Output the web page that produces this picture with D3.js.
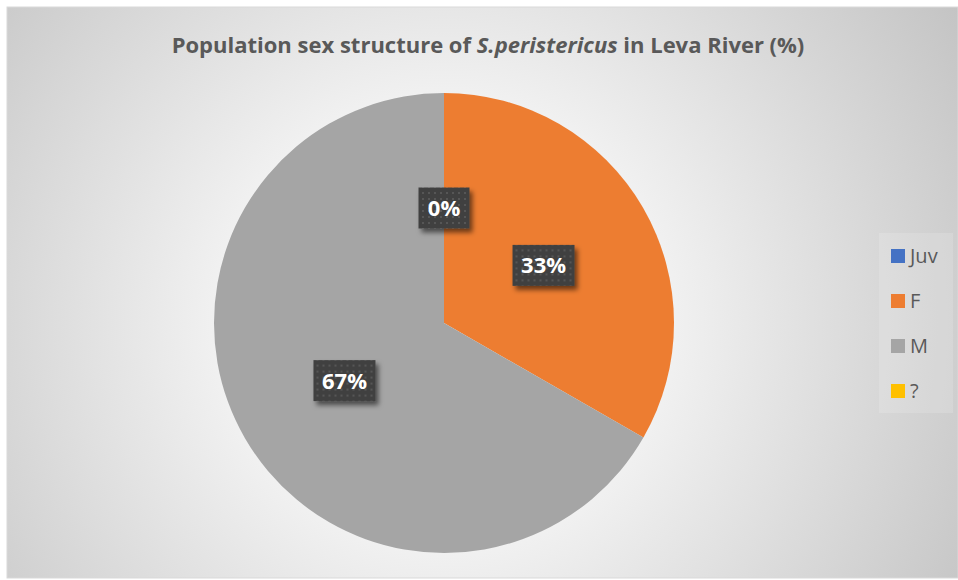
<!DOCTYPE html>
<html>
<head>
<meta charset="utf-8">
<script src="https://cdn.jsdelivr.net/npm/d3@7"></script>
<style>
  body { margin: 0; background: #fff; }
  svg { display: block; }
</style>
</head>
<body>
<svg id="chart" width="958" height="580"></svg>
<script>
// data
const categories = ["Juv", "F", "M", "?"];
const values = [0, 33.3, 66.7, 0];
const labels = ["0%", "33%", "67%", "0%"];
const colors = ["#4472C4", "#ED7D31", "#A5A5A5", "#FFC000"];

const width = 958, height = 580;
const cx = 444, cy = 323, radius = 230;
const textColor = "#595959";
const fontFamily = "'Open Sans', 'Noto Sans', sans-serif";

let svg = d3.select("#chart");
let defs = svg.append("defs");

// background gradient
let grad = defs.append("radialGradient")
  .attr("id", "bg")
  .attr("gradientUnits", "userSpaceOnUse")
  .attr("cx", cx).attr("cy", cy).attr("r", 620);
grad.append("stop").attr("offset", "0%").attr("stop-color", "#ffffff");
grad.append("stop").attr("offset", "35%").attr("stop-color", "#f2f2f2");
grad.append("stop").attr("offset", "100%").attr("stop-color", "#c2c2c2");

// dotted label pattern
let pat = defs.append("pattern")
  .attr("id", "dots")
  .attr("patternUnits", "userSpaceOnUse")
  .attr("width", 6).attr("height", 6);
pat.append("rect").attr("width", 6).attr("height", 6).attr("fill", "#404040");
pat.append("rect").attr("x", 2).attr("y", 2).attr("width", 2).attr("height", 2).attr("fill", "#575757");

// shadow filter
let filt = defs.append("filter").attr("id", "shadow")
  .attr("x", "-30%").attr("y", "-30%").attr("width", "170%").attr("height", "180%");
filt.append("feDropShadow")
  .attr("dx", 3).attr("dy", 4).attr("stdDeviation", 2.5)
  .attr("flood-color", "#000").attr("flood-opacity", 0.55);

svg.append("rect")
  .attr("x", 7).attr("y", 7)
  .attr("width", width - 7).attr("height", height - 9)
  .attr("fill", "url(#bg)")
  .attr("stroke", "#d9d9d9")
  .attr("stroke-width", 1);

// title
let title = svg.append("text")
  .attr("x", 488)
  .attr("y", 53)
  .attr("text-anchor", "middle")
  .style("font-family", fontFamily)
  .style("font-weight", "bold")
  .style("font-size", "22px")
  .style("fill", textColor);
title.append("tspan").text("Population sex structure of ");
title.append("tspan").style("font-style", "italic").text("S.peristericus");
title.append("tspan").text(" in Leva River (%)");

// pie
let data = categories.map((c, i) => ({ key: c, value: values[i], label: labels[i], color: colors[i] }));

let pie = d3.pie()
  .value(d => d.value)
  .sort(null);

let arc = d3.arc()
  .innerRadius(0)
  .outerRadius(radius);

let g = svg.append("g").attr("transform", "translate(" + cx + "," + cy + ")");

g.selectAll(".slice")
  .data(pie(data))
  .enter().append("path")
  .attr("class", "slice")
  .attr("d", arc)
  .attr("fill", d => d.data.color);

// data labels
let lab = g.selectAll(".lbl")
  .data(pie(data).filter(d => d.data.key !== "?"))
  .enter().append("g")
  .attr("class", "lbl")
  .attr("transform", d => "translate(" + arc.centroid(d) + ")");

lab.append("rect")
  .attr("x", d => d.data.label.length > 2 ? -31 : -25.5)
  .attr("y", -20.5)
  .attr("width", d => d.data.label.length > 2 ? 62 : 51)
  .attr("height", 41)
  .attr("fill", "url(#dots)")
  .attr("filter", "url(#shadow)");

lab.append("text")
  .attr("text-anchor", "middle")
  .attr("dy", "0.36em")
  .text(d => d.data.label)
  .style("font-family", fontFamily)
  .style("font-weight", "bold")
  .style("font-size", "22px")
  .style("fill", "#ffffff");

// legend
let legend = svg.append("g");
legend.append("rect")
  .attr("x", 879).attr("y", 233)
  .attr("width", 74).attr("height", 180)
  .attr("fill", "#ffffff").attr("fill-opacity", 0.15);

let item = legend.selectAll(".item")
  .data(data)
  .enter().append("g")
  .attr("class", "item")
  .attr("transform", (d, i) => "translate(891," + (249 + i * 45) + ")");

item.append("rect")
  .attr("width", 14).attr("height", 14)
  .attr("fill", d => d.color);

item.append("text")
  .attr("x", 19)
  .attr("y", 7)
  .attr("dy", "0.36em")
  .text(d => d.key)
  .style("font-family", fontFamily)
  .style("font-size", "20px")
  .style("fill", textColor);
</script>
</body>
</html>
